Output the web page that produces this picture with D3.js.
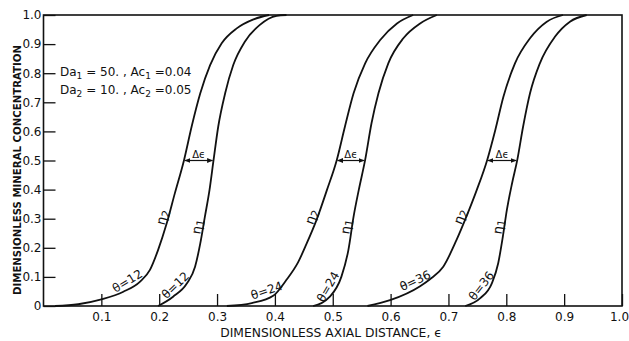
<!DOCTYPE html>
<html>
<head>
<meta charset="utf-8">
<script src="https://cdn.jsdelivr.net/npm/d3@7"></script>
<style>
  body { margin: 0; background: #fff; }
  svg { display: block; }
  text { font-family: "DejaVu Sans", "Liberation Sans", Arial, sans-serif; fill: #111; }
</style>
</head>
<body>
<svg id="chart" width="629" height="341"></svg>
<script>
// Axis ticks
const yTicks = [0, 0.1, 0.2, 0.3, 0.4, 0.5, 0.6, 0.7, 0.8, 0.9, 1.0];
const yTickLabels = ["0", "0.1", "0.2", "0.3", "0.4", "0.5", "0.6", "0.7", "0.8", "0.9", "1.0"];
const xTicks = [0.1, 0.2, 0.3, 0.4, 0.5, 0.6, 0.7, 0.8, 0.9, 1.0];
const xTickLabels = ["0.1", "0.2", "0.3", "0.4", "0.5", "0.6", "0.7", "0.8", "0.9", "1.0"];

// Concentration profiles [axial distance ε, concentration]
const eta2_theta12 = [[0.02,0],[0.06,0.006],[0.1,0.023],[0.138,0.049],[0.167,0.084],[0.184,0.124],[0.198,0.192],[0.213,0.284],[0.227,0.387],[0.243,0.502],[0.256,0.616],[0.271,0.731],[0.288,0.828],[0.308,0.903],[0.334,0.954],[0.363,0.985],[0.39,1.0]];
const eta1_theta12 = [[0.198,0],[0.224,0.032],[0.248,0.078],[0.262,0.135],[0.271,0.215],[0.279,0.307],[0.287,0.399],[0.294,0.502],[0.302,0.616],[0.314,0.731],[0.328,0.828],[0.348,0.908],[0.374,0.966],[0.403,0.997],[0.42,1.0]];
const eta2_theta24 = [[0.317,0],[0.36,0.01],[0.397,0.035],[0.42,0.09],[0.44,0.15],[0.455,0.215],[0.472,0.296],[0.49,0.399],[0.507,0.502],[0.521,0.616],[0.536,0.731],[0.556,0.834],[0.582,0.914],[0.611,0.971],[0.639,1.0]];
const eta1_theta24 = [[0.466,0],[0.495,0.032],[0.515,0.101],[0.527,0.192],[0.536,0.307],[0.545,0.399],[0.556,0.502],[0.567,0.628],[0.579,0.731],[0.596,0.834],[0.622,0.92],[0.651,0.971],[0.68,1.0]];
const eta2_theta36 = [[0.56,0],[0.599,0.02],[0.651,0.068],[0.668,0.092],[0.691,0.135],[0.714,0.227],[0.731,0.307],[0.749,0.399],[0.767,0.502],[0.781,0.605],[0.795,0.719],[0.815,0.834],[0.841,0.92],[0.87,0.977],[0.898,1.0]];
const eta1_theta36 = [[0.729,0],[0.755,0.027],[0.775,0.078],[0.786,0.147],[0.794,0.238],[0.801,0.33],[0.81,0.422],[0.819,0.502],[0.829,0.616],[0.841,0.731],[0.858,0.834],[0.884,0.925],[0.91,0.977],[0.939,1.0]];

const thetas = [12, 24, 36];
const pairs = [
  { theta: thetas[0], eta2: eta2_theta12, eta1: eta1_theta12 },
  { theta: thetas[1], eta2: eta2_theta24, eta1: eta1_theta24 },
  { theta: thetas[2], eta2: eta2_theta36, eta1: eta1_theta36 }
];
const deltaLevel = 0.5;

const svg = d3.select("#chart");
const x = d3.scaleLinear().domain([0, 1]).range([43.5, 622]);
const y = d3.scaleLinear().domain([0, 1]).range([306, 15]);

// Frame
svg.append("rect")
  .attr("x", x(0)).attr("y", y(1))
  .attr("width", x(1) - x(0)).attr("height", y(0) - y(1))
  .attr("fill", "none").attr("stroke", "#111").attr("stroke-width", 1.6);

// Axes with inward ticks
const yAxis = d3.axisLeft(y).tickValues(yTicks)
  .tickFormat((d, i) => yTickLabels[i])
  .tickSizeInner(-12).tickSizeOuter(0).tickPadding(2);
const gy = svg.append("g").attr("transform", `translate(${x(0)},0)`).call(yAxis);
gy.select(".domain").remove();
gy.selectAll(".tick line").attr("stroke", "#111").attr("stroke-width", 1.3);
gy.selectAll(".tick text").style("font-size", "12px").attr("fill", "#111")
  .style("font-family", "'DejaVu Sans', sans-serif");

const xAxis = d3.axisBottom(x).tickValues(xTicks)
  .tickFormat((d, i) => xTickLabels[i])
  .tickSizeInner(-12).tickSizeOuter(0).tickPadding(6);
const gx = svg.append("g").attr("transform", `translate(0,${y(0)})`).call(xAxis);
gx.select(".domain").remove();
gx.selectAll(".tick line").attr("stroke", "#111").attr("stroke-width", 1.3);
gx.selectAll(".tick text").style("font-size", "12px").attr("fill", "#111")
  .style("font-family", "'DejaVu Sans', sans-serif");
// keep the last label inside the page
gx.selectAll(".tick text").filter(d => d === 1.0).attr("dx", -3);

// Axis titles
svg.append("text")
  .attr("x", 331).attr("y", 337)
  .attr("text-anchor", "middle")
  .style("font-size", "12.3px")
  .text("DIMENSIONLESS AXIAL DISTANCE, \u03F5");

svg.append("text")
  .attr("transform", "translate(21,170) rotate(-90)")
  .attr("text-anchor", "middle")
  .style("font-size", "10.2px").style("font-weight", "bold")
  .text("DIMENSIONLESS MINERAL CONCENTRATION");

// Parameter note
const note = svg.append("g").style("font-size", "12px");
function noteLine(yPos, n, da, ac) {
  const t = note.append("text").attr("x", 60).attr("y", yPos);
  t.append("tspan").text("Da");
  t.append("tspan").attr("dy", 3).style("font-size", "9px").text(n);
  t.append("tspan").attr("dy", -3).text(` = ${da}. , Ac`);
  t.append("tspan").attr("dy", 3).style("font-size", "9px").text(n);
  t.append("tspan").attr("dy", -3).text(` =${ac}`);
}
noteLine(76, "1", "50", "0.04");
noteLine(94, "2", "10", "0.05");

// Curves
const line = d3.line()
  .x(d => x(d[0])).y(d => y(d[1]))
  .curve(d3.curveMonotoneX);

pairs.forEach(p => {
  [p.eta2, p.eta1].forEach(pts => {
    svg.append("path").datum(pts)
      .attr("d", line)
      .attr("fill", "none").attr("stroke", "#111").attr("stroke-width", 1.8);
  });
});

// Point on a profile at a given concentration, with local direction in pixels
function pointAt(pts, v) {
  for (let i = 1; i < pts.length; i++) {
    const a = pts[i - 1], b = pts[i];
    if (v >= a[1] && v <= b[1]) {
      const t = (v - a[1]) / (b[1] - a[1]);
      const e = a[0] + t * (b[0] - a[0]);
      const ang = Math.atan2(y(b[1]) - y(a[1]), x(b[0]) - x(a[0])) * 180 / Math.PI;
      return { e, px: x(e), py: y(v), ang };
    }
  }
  return null;
}

// Label written along a curve, lifted off it by `off` pixels
function curveLabel(pts, v, off, along, size, build) {
  const p = pointAt(pts, v);
  const r = p.ang * Math.PI / 180;
  const nx = Math.sin(r), ny = -Math.cos(r);
  const tx = Math.cos(r), ty = Math.sin(r);
  const t = svg.append("text")
    .attr("transform", `translate(${p.px + nx * off + tx * along},${p.py + ny * off + ty * along}) rotate(${p.ang})`)
    .attr("text-anchor", "middle")
    .style("font-size", size + "px");
  build(t);
}

function etaLabel(t, n) {
  t.append("tspan").text("\u03B7");
  t.append("tspan").attr("dy", 2).style("font-size", "11px").text(n);
}

// Arrow heads for the Δε spans
const defs = svg.append("defs");
defs.append("marker").attr("id", "arrow")
  .attr("viewBox", "0 0 10 10").attr("refX", 9).attr("refY", 5)
  .attr("markerWidth", 5).attr("markerHeight", 5)
  .attr("orient", "auto-start-reverse")
  .append("path").attr("d", "M0,1 L10,5 L0,9 Z").attr("fill", "#111");

pairs.forEach(p => {
  curveLabel(p.eta2, 0.31, 1.5, -3, 13, t => etaLabel(t, "2"));
  curveLabel(p.eta1, 0.28, 1.5, -3, 13, t => etaLabel(t, "1"));
  const thetaV2 = p.theta === 24 ? 0.03 : 0.065;
  curveLabel(p.eta2, thetaV2, 3, 0, 12, t => t.text(`\u03B8=${p.theta}`));
  curveLabel(p.eta1, 0.055, 2.5, 0, 12, t => t.text(`\u03B8=${p.theta}`));

  const a = pointAt(p.eta2, deltaLevel), b = pointAt(p.eta1, deltaLevel);
  svg.append("line")
    .attr("x1", a.px + 1).attr("x2", b.px - 1)
    .attr("y1", y(deltaLevel)).attr("y2", y(deltaLevel))
    .attr("stroke", "#111").attr("stroke-width", 1.2)
    .attr("marker-start", "url(#arrow)").attr("marker-end", "url(#arrow)");
  svg.append("text")
    .attr("x", (a.px + b.px) / 2).attr("y", y(deltaLevel) - 3)
    .attr("text-anchor", "middle")
    .style("font-size", "10px")
    .text("\u0394\u03F5");
});
</script>
</body>
</html>
